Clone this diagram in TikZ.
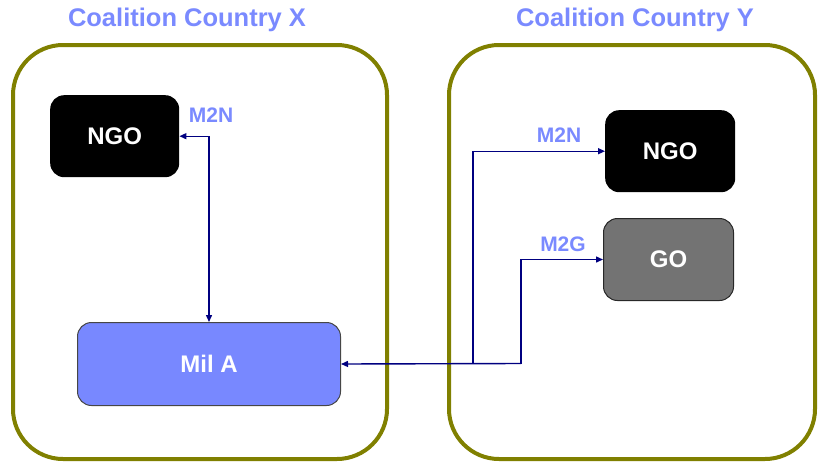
\documentclass[tikz,border=0pt]{standalone}
\usepackage{fontspec}
\setmainfont{Liberation Sans}
\usetikzlibrary{arrows.meta}
\definecolor{olivebox}{RGB}{128,128,0}
\definecolor{labelblue}{RGB}{122,138,255}
\definecolor{milfill}{RGB}{120,136,255}
\definecolor{navyline}{RGB}{0,0,128}
\definecolor{gofill}{RGB}{115,115,115}
\tikzset{
  country/.style={draw=olivebox, line width=4pt, rounded corners=50pt},
  title/.style={text=labelblue, font=\bfseries\fontsize{25.5}{28}\selectfont},
  msglabel/.style={text=labelblue, font=\bfseries\fontsize{21}{24}\selectfont},
  actor/.style={rounded corners=14pt, text=white, font=\bfseries\fontsize{24}{28}\selectfont,
    inner sep=0pt, anchor=north west},
  link/.style={draw=navyline, line width=1.4pt, arrows={-Triangle[length=7pt,width=6pt]}},
}
\begin{document}
\begin{tikzpicture}[x=1pt,y=-1pt]
\useasboundingbox (0,0) rectangle (818,463);
% country frames
\draw[country] (13,45) rectangle (387,459);
\draw[country] (449,45) rectangle (815,459);
\node[title] (tX) at (187,20) {Coalition Country X};
\node[title] (tY) at (635,20) {Coalition Country Y};
% organisations
\node[actor, fill=black, minimum width=129pt, minimum height=82pt] (ngoX) at (50,95) {NGO};
\node[actor, fill=milfill, draw={rgb,255:red,70;green,70;blue,70}, line width=1pt,
      minimum width=263pt, minimum height=83pt] (milA) at (77,322) {Mil A};
\node[actor, fill=black, minimum width=130pt, minimum height=82pt] (ngoY) at (605,110) {NGO};
\node[actor, fill=gofill, draw={rgb,255:red,40;green,40;blue,40}, line width=1pt,
      minimum width=130pt, minimum height=82pt] (goY) at (603,218) {GO};
% message flows
\coordinate (j1) at (473,363.5);
\coordinate (j2) at (521,363.5);
\draw[link, arrows={Triangle[length=7pt,width=6pt]-Triangle[length=7pt,width=6pt]}] (ngoX.east) -| (milA.north);
\draw[link] (j2) -- (milA.east);
\draw[link] (j1) |- (ngoY.west);
\draw[link] (j2) |- (goY.west);
% message labels
\node[msglabel] (m1) at (211,115) {M2N};
\node[msglabel] (m2) at (559,135) {M2N};
\node[msglabel] (m3) at (563,244) {M2G};
\end{tikzpicture}
\end{document}
